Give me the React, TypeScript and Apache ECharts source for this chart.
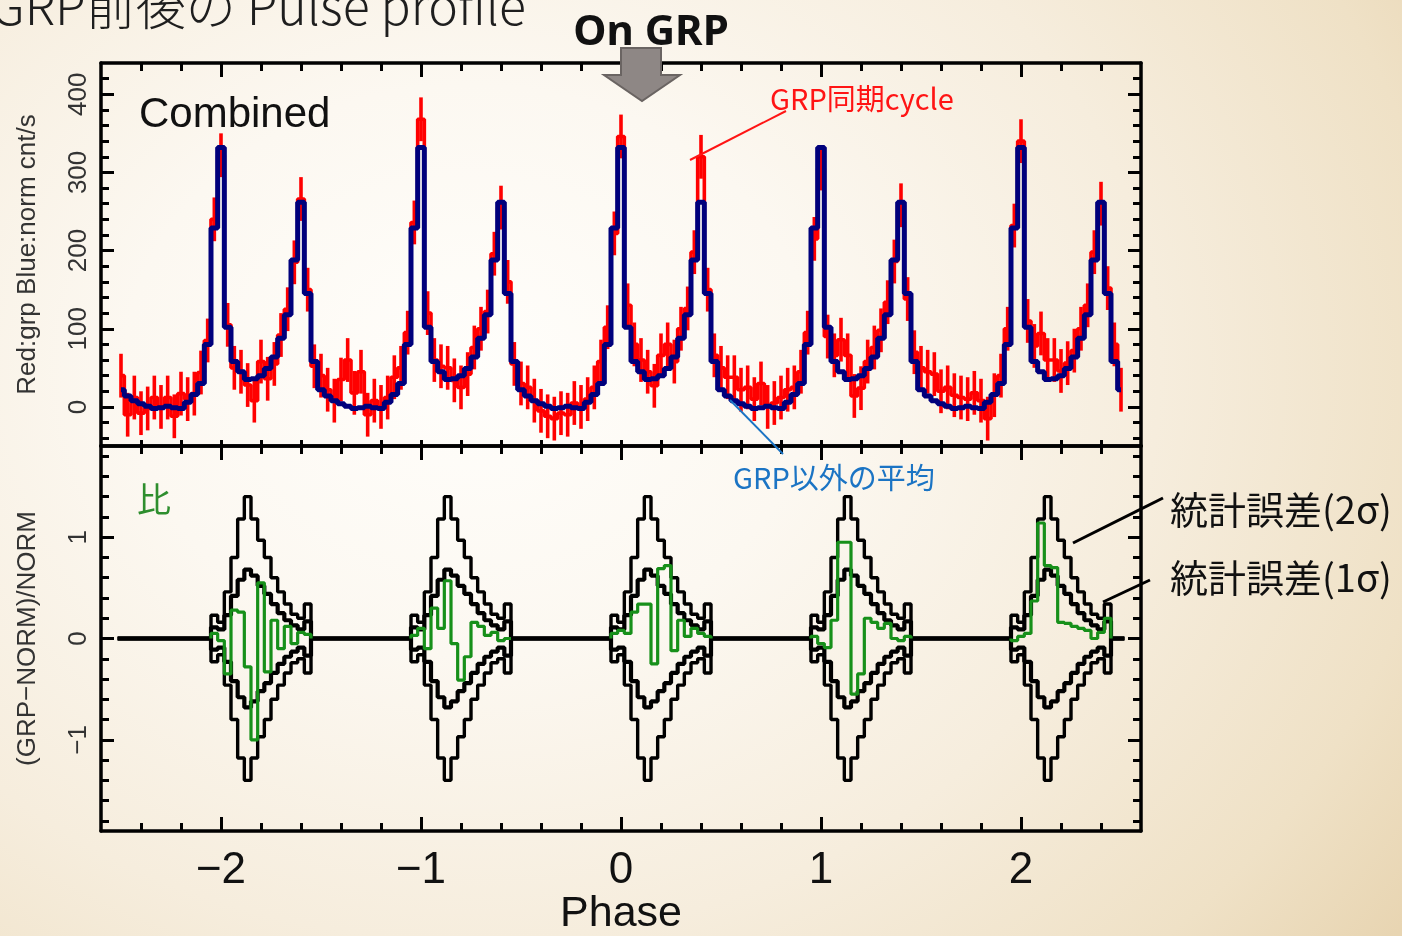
import React, { useEffect, useRef } from "react";
import * as echarts from "echarts";

// Axis tick labels
const phaseTicks = [-2, -1, 0, 1, 2];
const countTicks = [0, 100, 200, 300, 400];
const ratioTicks = [-1, 0, 1];

// Binning: 30 phase bins per rotation, first bin centred on phase -2.5
const binsPerCycle = 30;
const firstBinPhase = -2.5;
const cycles = [-2, -1, 0, 1, 2];

// Average (non-GRP) profile, one rotation, bin 0 = main pulse
const normProfile = [332, 102, 58, 45, 35, 36, 40, 49, 64, 88, 118, 188, 262, 145, 58, 22, 14, 8, 4, 1, -2, -1, 1, -1, -2, 6, 16, 30, 80, 229];

// GRP-synchronised cycles (cnt/s), each from phase c-0.5 to c+0.467
const grpCycleM2 = [40, -10, 12, -8, -2, 12, 0, 12, -12, 17, 10, 17, 44, 85, 240, 322, 105, 50, 45, 28, 8, 58, 36, 55, 92, 125, 185, 266, 150, 52];
const grpCycleM1 = [40, 22, 8, 35, 60, 18, 45, -10, 8, 0, 12, 38, 50, 95, 236, 368, 120, 60, 52, 50, 34, 25, 42, 76, 100, 122, 196, 255, 160, 55];
const grpCycle0 = [30, 25, 8, -5, -12, -15, -8, -10, 5, 0, 10, 25, 58, 102, 222, 346, 130, 80, 60, 45, 27, 66, 80, 58, 100, 126, 198, 320, 150, 66];
const grpCycleP1 = [50, 38, 38, 22, 25, 10, 30, 0, 5, 12, 22, 25, 45, 95, 215, 305, 90, 66, 86, 66, 14, 24, 58, 76, 98, 134, 186, 258, 138, 70];
const grpCycleP2 = [50, 45, 42, 20, 25, 15, 12, 10, 18, 8, -15, 15, 40, 100, 232, 340, 110, 78, 94, 60, 60, 46, 56, 72, 100, 130, 198, 260, 152, 80, 22];
const grpError = 28;

// Ratio window: bins -1 .. 13 around each main pulse
const windowFirstBin = -1;
const sigma2Window = [0.23, 0.16, 0.46, 0.8, 1.18, 1.4, 1.18, 0.97, 0.8, 0.6, 0.46, 0.34, 0.24, 0.2, 0.34];
const sigma1Window = [0.11, 0.09, 0.23, 0.42, 0.58, 0.68, 0.62, 0.52, 0.44, 0.34, 0.25, 0.18, 0.13, 0.09, 0.17];
const ratioCycleM2 = [0.05, -0.02, -0.35, 0.28, 0.26, -0.28, -1.0, 0.55, -0.33, 0.18, -0.1, 0.12, -0.05, 0.06, 0.04];
const ratioCycleM1 = [0.03, 0.1, -0.1, 0.3, 0.1, 0.57, -0.05, -0.41, -0.18, 0.16, 0.12, 0.03, 0.06, -0.02, 0.0];
const ratioCycle0 = [0.05, 0.08, 0.05, 0.26, 0.34, 0.34, -0.25, 0.69, 0.72, -0.12, 0.18, 0.02, 0.1, 0.05, 0.02];
const ratioCycleP1 = [0.02, -0.05, -0.09, 0.18, 0.95, 0.95, -0.55, -0.35, 0.2, 0.16, 0.1, 0.15, 0.0, -0.02, 0.02];
const ratioCycleP2 = [-0.02, 0.02, 0.05, 0.37, 1.14, 0.72, 0.7, 0.16, 0.15, 0.12, 0.1, 0.08, 0.0, 0.06, 0.2];

const LATIN = "'Liberation Sans', Arial, Helvetica, sans-serif";
const CJK = "'Noto Sans CJK JP', 'Noto Sans', sans-serif";

const binWidth = 1 / binsPerCycle;
const xRange = { min: -2.6, max: 2.6 };
const countRange = { min: -50, max: 440 };
const ratioRange = { min: -1.9, max: 1.9 };

const minus = (v: number) => (v < 0 ? "\u2212" + Math.abs(v) : String(v));

function minorValues(lo: number, hi: number, step: number, majorStep: number) {
  const out: number[] = [];
  const n0 = Math.ceil(lo / step - 1e-9);
  const n1 = Math.floor(hi / step + 1e-9);
  for (let i = n0; i <= n1; i++) {
    const v = +(i * step).toFixed(6);
    if (Math.abs(v / majorStep - Math.round(v / majorStep)) > 1e-6) out.push(v);
  }
  return out;
}

function histogram(centers: number[], values: number[]) {
  const pts: number[][] = [];
  centers.forEach((c, i) => {
    pts.push([c - binWidth / 2, values[i]], [c + binWidth / 2, values[i]]);
  });
  return pts;
}

function buildOption() {
  const grpAll = [...grpCycleM2, ...grpCycleM1, ...grpCycle0, ...grpCycleP1, ...grpCycleP2];
  const phases = grpAll.map((_, j) => firstBinPhase + j / binsPerCycle);
  const grpData = grpAll.map((v, j) => [phases[j], v]);
  const normData = phases.map((p, j) => [p, normProfile[(j + binsPerCycle / 2) % binsPerCycle]]);

  // envelope value for each bin (zero outside the windows)
  const envelope = (win: number[], sign: number) =>
    phases.map((_, j) => {
      const rel = j - binsPerCycle / 2;
      const cyc = Math.floor((rel + binsPerCycle / 2) / binsPerCycle);
      const k = rel - cyc * binsPerCycle;
      const idx = k - windowFirstBin;
      return idx >= 0 && idx < win.length ? sign * win[idx] : 0;
    });

  const ratios = [ratioCycleM2, ratioCycleM1, ratioCycle0, ratioCycleP1, ratioCycleP2];
  const ratioSeries = ratios.map((vals, ci) => {
    const centers = vals.map((_, i) => cycles[ci] + (windowFirstBin + i) / binsPerCycle);
    const pts = [
      [centers[0] - binWidth / 2, 0],
      ...histogram(centers, vals),
      [centers[centers.length - 1] + binWidth / 2, 0],
    ];
    return {
      type: "line",
      xAxisIndex: 3,
      yAxisIndex: 4,
      data: pts,
      showSymbol: false,
      silent: true,
      z: 5,
      lineStyle: { color: "#17901a", width: 3.2 },
    };
  });

  const envSeries = [
    { win: sigma2Window, sign: 1, w: 3.4 },
    { win: sigma2Window, sign: -1, w: 3.4 },
    { win: sigma1Window, sign: 1, w: 4.2 },
    { win: sigma1Window, sign: -1, w: 4.2 },
  ].map((e) => ({
    type: "line",
    xAxisIndex: 3,
    yAxisIndex: 4,
    data: histogram(phases, envelope(e.win, e.sign)),
    showSymbol: false,
    silent: true,
    z: 3,
    lineStyle: { color: "#000", width: e.w },
  }));

  const tickLine = { color: "#000", width: 3 };
  const frame = { show: true, onZero: false, lineStyle: { color: "#000", width: 3.5 } };
  const base = (range: { min: number; max: number }) => ({
    type: "value",
    min: range.min,
    max: range.max,
    splitLine: { show: false },
    axisLine: { show: false, onZero: false },
    axisLabel: { show: false },
  });
  const ticks = (values: number[], length: number) => ({
    show: true,
    inside: true,
    length,
    customValues: values,
    lineStyle: tickLine,
  });

  const xMinor = minorValues(xRange.min, xRange.max, 0.2, 1).filter((v) => v > xRange.min && v < xRange.max);
  const xAll = [...phaseTicks, ...xMinor];
  const countMinor = minorValues(countRange.min, countRange.max, 20, 100).filter((v) => v < countRange.max);
  const ratioMinor = minorValues(ratioRange.min, ratioRange.max, 0.2, 1);

  const xAxis = [
    { ...base(xRange), gridIndex: 0, position: "bottom", axisLine: frame, axisTick: ticks(xAll, 6) },
    { ...base(xRange), gridIndex: 0, position: "top", axisLine: frame, axisTick: ticks(phaseTicks, 14) },
    { ...base(xRange), gridIndex: 0, position: "top", axisTick: ticks(xMinor, 8) },
    {
      ...base(xRange),
      gridIndex: 1,
      position: "bottom",
      axisLine: frame,
      axisTick: ticks(phaseTicks, 14),
      axisLabel: {
        show: true,
        customValues: phaseTicks,
        formatter: (v: number) => minus(v),
        fontFamily: LATIN,
        fontSize: 44,
        color: "#111",
        margin: 14,
      },
      name: "Phase",
      nameLocation: "middle",
      nameGap: 58,
      nameTextStyle: { fontFamily: LATIN, fontSize: 43, color: "#111" },
    },
    { ...base(xRange), gridIndex: 1, position: "bottom", axisTick: ticks(xMinor, 8) },
    { ...base(xRange), gridIndex: 1, position: "top", axisLine: frame, axisTick: ticks(phaseTicks, 14) },
    { ...base(xRange), gridIndex: 1, position: "top", axisTick: ticks(xMinor, 8) },
  ];

  const yLabel = (values: number[]) => ({
    show: true,
    customValues: values,
    formatter: (v: number) => minus(v),
    rotate: 90,
    fontFamily: LATIN,
    fontSize: 26,
    color: "#333",
    margin: 11,
  });
  const yName = (text: string, gap: number) => ({
    name: text,
    nameLocation: "middle",
    nameRotate: 90,
    nameGap: gap,
    nameTextStyle: { fontFamily: LATIN, fontSize: 26, color: "#333" },
  });

  const yAxis = [
    {
      ...base(countRange),
      gridIndex: 0,
      position: "left",
      axisLine: frame,
      axisTick: ticks(countTicks, 13),
      axisLabel: yLabel(countTicks),
      ...yName("Red:grp Blue:norm cnt/s", 62),
    },
    { ...base(countRange), gridIndex: 0, position: "left", offset: 0, axisTick: ticks(countMinor, 8) },
    { ...base(countRange), gridIndex: 0, position: "right", offset: 0, axisLine: frame, axisTick: ticks(countTicks, 13) },
    { ...base(countRange), gridIndex: 0, position: "right", offset: 0, axisTick: ticks(countMinor, 8) },
    {
      ...base(ratioRange),
      gridIndex: 1,
      position: "left",
      axisLine: frame,
      axisTick: ticks(ratioTicks, 13),
      axisLabel: yLabel(ratioTicks),
      ...yName("(GRP\u2212NORM)/NORM", 62),
    },
    { ...base(ratioRange), gridIndex: 1, position: "left", offset: 0, axisTick: ticks(ratioMinor, 8) },
    { ...base(ratioRange), gridIndex: 1, position: "right", offset: 0, axisLine: frame, axisTick: ticks(ratioTicks, 13) },
    { ...base(ratioRange), gridIndex: 1, position: "right", offset: 0, axisTick: ticks(ratioMinor, 8) },
  ];

  const series: any[] = [
    {
      type: "custom",
      xAxisIndex: 0,
      yAxisIndex: 0,
      data: grpData,
      encode: { x: 0, y: 1 },
      clip: true,
      silent: true,
      z: 2,
      renderItem: (_params: any, api: any) => {
        const x = api.value(0);
        const y = api.value(1);
        const top = api.coord([x, y + grpError]);
        const bot = api.coord([x, y - grpError]);
        return {
          type: "line",
          shape: { x1: top[0], y1: top[1], x2: bot[0], y2: bot[1] },
          style: { stroke: "#ff0000", lineWidth: 3.6 },
        };
      },
    },
    {
      type: "line",
      xAxisIndex: 0,
      yAxisIndex: 0,
      step: "middle",
      data: grpData,
      showSymbol: false,
      silent: true,
      z: 3,
      lineStyle: { color: "#ff0000", width: 3.6 },
    },
    {
      type: "line",
      xAxisIndex: 0,
      yAxisIndex: 0,
      step: "middle",
      data: normData,
      showSymbol: false,
      silent: true,
      z: 4,
      lineStyle: { color: "#00007c", width: 5 },
    },
    ...envSeries,
    ...ratioSeries,
  ];

  const graphic: any[] = [
    {
      type: "text",
      x: -9,
      y: 3,
      z: 100,
      style: { text: "GRP前後の Pulse profile", fontFamily: CJK, fontSize: 50, fontWeight: 300, fill: "#1e1e1e", align: "left", verticalAlign: "middle" },
    },
    {
      type: "text",
      x: 651,
      y: 28,
      z: 100,
      style: { text: "On GRP", fontFamily: "'Noto Sans', sans-serif", fontSize: 42, fontWeight: "bold", fill: "#111", align: "center", verticalAlign: "middle" },
    },
    {
      type: "polygon",
      z: 100,
      shape: { points: [[621, 48], [661, 48], [661, 75], [680, 75], [642, 101], [604, 75], [621, 75]] },
      style: { fill: "#8e8785", stroke: "#6a6462", lineWidth: 2 },
    },
    {
      type: "text",
      x: 139,
      y: 112,
      z: 100,
      style: { text: "Combined", fontFamily: LATIN, fontSize: 42, fill: "#111", align: "left", verticalAlign: "middle" },
    },
    {
      type: "text",
      x: 137,
      y: 497,
      z: 100,
      style: { text: "比", fontFamily: CJK, fontSize: 34, fill: "#2e8e2e", align: "left", verticalAlign: "middle" },
    },
    {
      type: "text",
      x: 770,
      y: 97,
      z: 100,
      style: { text: "GRP同期cycle", fontFamily: CJK, fontSize: 29, fill: "#ff1414", align: "left", verticalAlign: "middle" },
    },
    { type: "line", z: 100, shape: { x1: 786, y1: 111, x2: 690, y2: 160 }, style: { stroke: "#ff1414", lineWidth: 2 } },
    {
      type: "text",
      x: 733,
      y: 476,
      z: 100,
      style: { text: "GRP以外の平均", fontFamily: CJK, fontSize: 29, fill: "#1b74c4", align: "left", verticalAlign: "middle" },
    },
    { type: "line", z: 100, shape: { x1: 730, y1: 400, x2: 783, y2: 454 }, style: { stroke: "#1b74c4", lineWidth: 2 } },
    {
      type: "text",
      x: 1170,
      y: 507,
      z: 100,
      style: { text: "統計誤差(2σ)", fontFamily: CJK, fontSize: 38, fill: "#111", align: "left", verticalAlign: "middle" },
    },
    {
      type: "text",
      x: 1170,
      y: 575,
      z: 100,
      style: { text: "統計誤差(1σ)", fontFamily: CJK, fontSize: 38, fill: "#111", align: "left", verticalAlign: "middle" },
    },
    { type: "line", z: 100, shape: { x1: 1163, y1: 498, x2: 1073, y2: 543 }, style: { stroke: "#000", lineWidth: 3 } },
    { type: "line", z: 100, shape: { x1: 1150, y1: 580, x2: 1103, y2: 602 }, style: { stroke: "#000", lineWidth: 3 } },
  ];

  return {
    animation: false,
    backgroundColor: "transparent",
    grid: [
      { left: 101, top: 63, width: 1040, height: 383 },
      { left: 101, top: 446, width: 1040, height: 385 },
    ],
    xAxis,
    yAxis,
    series,
    graphic,
  };
}

export default function App() {
  const ref = useRef<HTMLDivElement>(null);
  useEffect(() => {
    if (!ref.current) return;
    const chart = echarts.init(ref.current, null, { renderer: "svg" });
    chart.setOption(buildOption() as any);
    return () => chart.dispose();
  }, []);
  return (
    <div
      ref={ref}
      style={{
        position: "fixed",
        left: 0,
        top: 0,
        width: 1402,
        height: 936,
        background:
          "radial-gradient(ellipse 1150px 950px at 470px 370px, #fffefb 0%, #fcf8f1 30%, #f6eddd 60%, #efe1c6 85%, #e8d5b2 100%)",
      }}
    />
  );
}
